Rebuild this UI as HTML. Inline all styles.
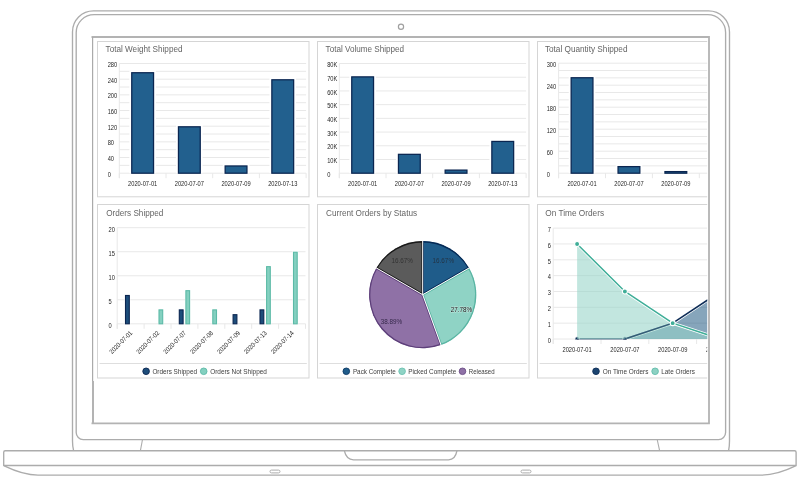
<!DOCTYPE html>
<html><head><meta charset="utf-8"><title>Dashboard</title>
<style>
html,body{margin:0;padding:0;background:#fff;width:800px;height:487px;overflow:hidden}
svg{display:block;will-change:transform;filter:blur(0.3px)}
text{font-family:'Liberation Sans', Arial, sans-serif}
.t{font-size:8.7px;fill:#656565}
.ax{font-size:6.5px;fill:#262626}
.lg{font-size:7.2px;fill:#3c3c3c}
.pl{font-size:7px}
</style></head><body>
<svg width="800" height="487" viewBox="0 0 800 487">
<path d="M73.6 450.6 C72.6 447 72.5 445 72.5 441 L72.5 32 A21 21 0 0 1 93.5 10.9 L708.5 10.9 A21 21 0 0 1 729.5 32 L729.5 441 C729.5 445 729.4 447 728.6 450.6" fill="none" stroke="#acacac" stroke-width="1.35"/>
<path d="M76.2 32.6 A18 18 0 0 1 94.2 14.6 L707.6 14.6 A18 18 0 0 1 725.6 32.6 L725.6 432.6 A7 7 0 0 1 718.6 439.6 L83.2 439.6 A7 7 0 0 1 76.2 432.6 Z" fill="none" stroke="#acacac" stroke-width="1.35"/>
<circle cx="401" cy="26.8" r="2.6" fill="none" stroke="#a0a0a0" stroke-width="1.2"/>
<path d="M142.4 440 L140.4 450.6 M657.3 440 L659.6 450.6" stroke="#acacac" stroke-width="1.1" fill="none"/>
<path d="M3.7 465.5 L3.7 452.2 A1.5 1.5 0 0 1 5.2 450.7 L794.6 450.7 A1.5 1.5 0 0 1 796.1 452.2 L796.1 465.5 Z" fill="none" stroke="#acacac" stroke-width="1.35"/>
<path d="M4.2 465.8 C14 470.5 26 475 38 475.1 L761 475.1 C773 475 786 470.5 795.6 465.8" fill="none" stroke="#acacac" stroke-width="1.35"/>
<path d="M344.3 450.7 C345.5 456 348.5 459.8 353.5 459.8 L448.5 459.8 C453.5 459.8 456 456 457 450.7" fill="none" stroke="#acacac" stroke-width="1.35"/>
<rect x="270" y="470.1" width="10" height="2.8" rx="1.4" fill="none" stroke="#acacac" stroke-width="1"/>
<rect x="521" y="470.1" width="10" height="2.8" rx="1.4" fill="none" stroke="#acacac" stroke-width="1"/>
<defs><clipPath id="scr"><rect x="93.6" y="38" width="613.6" height="384.6"/></clipPath></defs>
<g clip-path="url(#scr)">
<rect x="97.5" y="41.5" width="211.5" height="155.3" fill="#fff" stroke="#d5d5d5" stroke-width="1"/>
<rect x="97.5" y="204.5" width="211.5" height="173.5" fill="#fff" stroke="#d5d5d5" stroke-width="1"/>
<rect x="317.5" y="41.5" width="211.5" height="155.3" fill="#fff" stroke="#d5d5d5" stroke-width="1"/>
<rect x="317.5" y="204.5" width="211.5" height="173.5" fill="#fff" stroke="#d5d5d5" stroke-width="1"/>
<rect x="537.5" y="41.5" width="211.5" height="155.3" fill="#fff" stroke="#d5d5d5" stroke-width="1"/>
<rect x="537.5" y="204.5" width="211.5" height="173.5" fill="#fff" stroke="#d5d5d5" stroke-width="1"/>
<text class="t" x="105.6" y="51.6" textLength="76.9" lengthAdjust="spacingAndGlyphs">Total Weight Shipped</text>
<text class="t" x="325.6" y="51.6" textLength="78.5" lengthAdjust="spacingAndGlyphs">Total Volume Shipped</text>
<text class="t" x="544.9" y="51.6" textLength="82.6" lengthAdjust="spacingAndGlyphs">Total Quantity Shipped</text>
<text class="t" x="106.2" y="216.0" textLength="57.2" lengthAdjust="spacingAndGlyphs">Orders Shipped</text>
<text class="t" x="326.0" y="216.0" textLength="91.1" lengthAdjust="spacingAndGlyphs">Current Orders by Status</text>
<text class="t" x="545.3" y="216.0" textLength="58.8" lengthAdjust="spacingAndGlyphs">On Time Orders</text>
<line x1="119.3" y1="173.20" x2="306.1" y2="173.20" stroke="#e8e8e8" stroke-width="1"/>
<line x1="119.3" y1="165.36" x2="306.1" y2="165.36" stroke="#e8e8e8" stroke-width="1"/>
<line x1="119.3" y1="157.53" x2="306.1" y2="157.53" stroke="#e8e8e8" stroke-width="1"/>
<line x1="119.3" y1="149.69" x2="306.1" y2="149.69" stroke="#e8e8e8" stroke-width="1"/>
<line x1="119.3" y1="141.86" x2="306.1" y2="141.86" stroke="#e8e8e8" stroke-width="1"/>
<line x1="119.3" y1="134.02" x2="306.1" y2="134.02" stroke="#e8e8e8" stroke-width="1"/>
<line x1="119.3" y1="126.19" x2="306.1" y2="126.19" stroke="#e8e8e8" stroke-width="1"/>
<line x1="119.3" y1="118.35" x2="306.1" y2="118.35" stroke="#e8e8e8" stroke-width="1"/>
<line x1="119.3" y1="110.52" x2="306.1" y2="110.52" stroke="#e8e8e8" stroke-width="1"/>
<line x1="119.3" y1="102.68" x2="306.1" y2="102.68" stroke="#e8e8e8" stroke-width="1"/>
<line x1="119.3" y1="94.85" x2="306.1" y2="94.85" stroke="#e8e8e8" stroke-width="1"/>
<line x1="119.3" y1="87.01" x2="306.1" y2="87.01" stroke="#e8e8e8" stroke-width="1"/>
<line x1="119.3" y1="79.18" x2="306.1" y2="79.18" stroke="#e8e8e8" stroke-width="1"/>
<line x1="119.3" y1="71.34" x2="306.1" y2="71.34" stroke="#e8e8e8" stroke-width="1"/>
<line x1="119.3" y1="63.51" x2="306.1" y2="63.51" stroke="#e8e8e8" stroke-width="1"/>
<line x1="119.3" y1="63.51" x2="119.3" y2="178.2" stroke="#e8e8e8" stroke-width="1"/>
<line x1="119.30" y1="173.2" x2="119.30" y2="178.2" stroke="#e8e8e8" stroke-width="1"/>
<line x1="166.00" y1="173.2" x2="166.00" y2="178.2" stroke="#e8e8e8" stroke-width="1"/>
<line x1="212.70" y1="173.2" x2="212.70" y2="178.2" stroke="#e8e8e8" stroke-width="1"/>
<line x1="259.40" y1="173.2" x2="259.40" y2="178.2" stroke="#e8e8e8" stroke-width="1"/>
<line x1="306.10" y1="173.2" x2="306.10" y2="178.2" stroke="#e8e8e8" stroke-width="1"/>
<text class="ax" x="107.70" y="176.80" textLength="3.18" lengthAdjust="spacingAndGlyphs">0</text>
<text class="ax" x="107.70" y="161.13" textLength="6.36" lengthAdjust="spacingAndGlyphs">40</text>
<text class="ax" x="107.70" y="145.46" textLength="6.36" lengthAdjust="spacingAndGlyphs">80</text>
<text class="ax" x="107.70" y="129.79" textLength="9.54" lengthAdjust="spacingAndGlyphs">120</text>
<text class="ax" x="107.70" y="114.12" textLength="9.54" lengthAdjust="spacingAndGlyphs">160</text>
<text class="ax" x="107.70" y="98.45" textLength="9.54" lengthAdjust="spacingAndGlyphs">200</text>
<text class="ax" x="107.70" y="82.78" textLength="9.54" lengthAdjust="spacingAndGlyphs">240</text>
<text class="ax" x="107.70" y="67.11" textLength="9.54" lengthAdjust="spacingAndGlyphs">280</text>
<text class="ax" x="142.65" y="185.80" textLength="29.25" lengthAdjust="spacingAndGlyphs" text-anchor="middle">2020-07-01</text>
<text class="ax" x="189.35" y="185.80" textLength="29.25" lengthAdjust="spacingAndGlyphs" text-anchor="middle">2020-07-07</text>
<text class="ax" x="236.05" y="185.80" textLength="29.25" lengthAdjust="spacingAndGlyphs" text-anchor="middle">2020-07-09</text>
<text class="ax" x="282.75" y="185.80" textLength="29.25" lengthAdjust="spacingAndGlyphs" text-anchor="middle">2020-07-13</text>
<rect x="129.35" y="70.53" width="26.6" height="102.67" fill="#fff"/>
<rect x="131.75" y="72.73" width="21.8" height="100.47" fill="#22608e" stroke="#0a2550" stroke-width="1.25"/>
<rect x="176.05" y="124.59" width="26.6" height="48.61" fill="#fff"/>
<rect x="178.45" y="126.79" width="21.8" height="46.41" fill="#22608e" stroke="#0a2550" stroke-width="1.25"/>
<rect x="222.75" y="163.76" width="26.6" height="9.44" fill="#fff"/>
<rect x="225.15" y="165.96" width="21.8" height="7.24" fill="#22608e" stroke="#0a2550" stroke-width="1.25"/>
<rect x="269.45" y="77.58" width="26.6" height="95.62" fill="#fff"/>
<rect x="271.85" y="79.78" width="21.8" height="93.42" fill="#22608e" stroke="#0a2550" stroke-width="1.25"/>
<line x1="339.3" y1="173.20" x2="526.1" y2="173.20" stroke="#e8e8e8" stroke-width="1"/>
<line x1="339.3" y1="159.49" x2="526.1" y2="159.49" stroke="#e8e8e8" stroke-width="1"/>
<line x1="339.3" y1="145.78" x2="526.1" y2="145.78" stroke="#e8e8e8" stroke-width="1"/>
<line x1="339.3" y1="132.07" x2="526.1" y2="132.07" stroke="#e8e8e8" stroke-width="1"/>
<line x1="339.3" y1="118.36" x2="526.1" y2="118.36" stroke="#e8e8e8" stroke-width="1"/>
<line x1="339.3" y1="104.65" x2="526.1" y2="104.65" stroke="#e8e8e8" stroke-width="1"/>
<line x1="339.3" y1="90.94" x2="526.1" y2="90.94" stroke="#e8e8e8" stroke-width="1"/>
<line x1="339.3" y1="77.23" x2="526.1" y2="77.23" stroke="#e8e8e8" stroke-width="1"/>
<line x1="339.3" y1="63.52" x2="526.1" y2="63.52" stroke="#e8e8e8" stroke-width="1"/>
<line x1="339.3" y1="63.52" x2="339.3" y2="178.2" stroke="#e8e8e8" stroke-width="1"/>
<line x1="339.30" y1="173.2" x2="339.30" y2="178.2" stroke="#e8e8e8" stroke-width="1"/>
<line x1="386.00" y1="173.2" x2="386.00" y2="178.2" stroke="#e8e8e8" stroke-width="1"/>
<line x1="432.70" y1="173.2" x2="432.70" y2="178.2" stroke="#e8e8e8" stroke-width="1"/>
<line x1="479.40" y1="173.2" x2="479.40" y2="178.2" stroke="#e8e8e8" stroke-width="1"/>
<line x1="526.10" y1="173.2" x2="526.10" y2="178.2" stroke="#e8e8e8" stroke-width="1"/>
<text class="ax" x="327.20" y="176.80" textLength="3.18" lengthAdjust="spacingAndGlyphs">0</text>
<text class="ax" x="327.20" y="163.09" textLength="10.18" lengthAdjust="spacingAndGlyphs">10K</text>
<text class="ax" x="327.20" y="149.38" textLength="10.18" lengthAdjust="spacingAndGlyphs">20K</text>
<text class="ax" x="327.20" y="135.67" textLength="10.18" lengthAdjust="spacingAndGlyphs">30K</text>
<text class="ax" x="327.20" y="121.96" textLength="10.18" lengthAdjust="spacingAndGlyphs">40K</text>
<text class="ax" x="327.20" y="108.25" textLength="10.18" lengthAdjust="spacingAndGlyphs">50K</text>
<text class="ax" x="327.20" y="94.54" textLength="10.18" lengthAdjust="spacingAndGlyphs">60K</text>
<text class="ax" x="327.20" y="80.83" textLength="10.18" lengthAdjust="spacingAndGlyphs">70K</text>
<text class="ax" x="327.20" y="67.12" textLength="10.18" lengthAdjust="spacingAndGlyphs">80K</text>
<text class="ax" x="362.65" y="185.80" textLength="29.25" lengthAdjust="spacingAndGlyphs" text-anchor="middle">2020-07-01</text>
<text class="ax" x="409.35" y="185.80" textLength="29.25" lengthAdjust="spacingAndGlyphs" text-anchor="middle">2020-07-07</text>
<text class="ax" x="456.05" y="185.80" textLength="29.25" lengthAdjust="spacingAndGlyphs" text-anchor="middle">2020-07-09</text>
<text class="ax" x="502.75" y="185.80" textLength="29.25" lengthAdjust="spacingAndGlyphs" text-anchor="middle">2020-07-13</text>
<rect x="349.35" y="74.67" width="26.6" height="98.53" fill="#fff"/>
<rect x="351.75" y="76.87" width="21.8" height="96.33" fill="#22608e" stroke="#0a2550" stroke-width="1.25"/>
<rect x="396.05" y="152.13" width="26.6" height="21.07" fill="#fff"/>
<rect x="398.45" y="154.33" width="21.8" height="18.87" fill="#22608e" stroke="#0a2550" stroke-width="1.25"/>
<rect x="442.75" y="167.90" width="26.6" height="5.30" fill="#fff"/>
<rect x="445.15" y="170.10" width="21.8" height="3.10" fill="#22608e" stroke="#0a2550" stroke-width="1.25"/>
<rect x="489.45" y="139.24" width="26.6" height="33.96" fill="#fff"/>
<rect x="491.85" y="141.44" width="21.8" height="31.76" fill="#22608e" stroke="#0a2550" stroke-width="1.25"/>
<line x1="558.6" y1="173.20" x2="746.2" y2="173.20" stroke="#e8e8e8" stroke-width="1"/>
<line x1="558.6" y1="165.87" x2="746.2" y2="165.87" stroke="#e8e8e8" stroke-width="1"/>
<line x1="558.6" y1="158.53" x2="746.2" y2="158.53" stroke="#e8e8e8" stroke-width="1"/>
<line x1="558.6" y1="151.20" x2="746.2" y2="151.20" stroke="#e8e8e8" stroke-width="1"/>
<line x1="558.6" y1="143.87" x2="746.2" y2="143.87" stroke="#e8e8e8" stroke-width="1"/>
<line x1="558.6" y1="136.53" x2="746.2" y2="136.53" stroke="#e8e8e8" stroke-width="1"/>
<line x1="558.6" y1="129.20" x2="746.2" y2="129.20" stroke="#e8e8e8" stroke-width="1"/>
<line x1="558.6" y1="121.87" x2="746.2" y2="121.87" stroke="#e8e8e8" stroke-width="1"/>
<line x1="558.6" y1="114.54" x2="746.2" y2="114.54" stroke="#e8e8e8" stroke-width="1"/>
<line x1="558.6" y1="107.20" x2="746.2" y2="107.20" stroke="#e8e8e8" stroke-width="1"/>
<line x1="558.6" y1="99.87" x2="746.2" y2="99.87" stroke="#e8e8e8" stroke-width="1"/>
<line x1="558.6" y1="92.54" x2="746.2" y2="92.54" stroke="#e8e8e8" stroke-width="1"/>
<line x1="558.6" y1="85.20" x2="746.2" y2="85.20" stroke="#e8e8e8" stroke-width="1"/>
<line x1="558.6" y1="77.87" x2="746.2" y2="77.87" stroke="#e8e8e8" stroke-width="1"/>
<line x1="558.6" y1="70.54" x2="746.2" y2="70.54" stroke="#e8e8e8" stroke-width="1"/>
<line x1="558.6" y1="63.20" x2="746.2" y2="63.20" stroke="#e8e8e8" stroke-width="1"/>
<line x1="558.6" y1="63.20" x2="558.6" y2="178.2" stroke="#e8e8e8" stroke-width="1"/>
<line x1="558.60" y1="173.2" x2="558.60" y2="178.2" stroke="#e8e8e8" stroke-width="1"/>
<line x1="605.50" y1="173.2" x2="605.50" y2="178.2" stroke="#e8e8e8" stroke-width="1"/>
<line x1="652.40" y1="173.2" x2="652.40" y2="178.2" stroke="#e8e8e8" stroke-width="1"/>
<line x1="699.30" y1="173.2" x2="699.30" y2="178.2" stroke="#e8e8e8" stroke-width="1"/>
<line x1="746.20" y1="173.2" x2="746.20" y2="178.2" stroke="#e8e8e8" stroke-width="1"/>
<text class="ax" x="546.70" y="176.80" textLength="3.18" lengthAdjust="spacingAndGlyphs">0</text>
<text class="ax" x="546.70" y="154.80" textLength="6.36" lengthAdjust="spacingAndGlyphs">60</text>
<text class="ax" x="546.70" y="132.80" textLength="9.54" lengthAdjust="spacingAndGlyphs">120</text>
<text class="ax" x="546.70" y="110.80" textLength="9.54" lengthAdjust="spacingAndGlyphs">180</text>
<text class="ax" x="546.70" y="88.80" textLength="9.54" lengthAdjust="spacingAndGlyphs">240</text>
<text class="ax" x="546.70" y="66.80" textLength="9.54" lengthAdjust="spacingAndGlyphs">300</text>
<text class="ax" x="582.05" y="185.80" textLength="29.25" lengthAdjust="spacingAndGlyphs" text-anchor="middle">2020-07-01</text>
<text class="ax" x="628.95" y="185.80" textLength="29.25" lengthAdjust="spacingAndGlyphs" text-anchor="middle">2020-07-07</text>
<text class="ax" x="675.85" y="185.80" textLength="29.25" lengthAdjust="spacingAndGlyphs" text-anchor="middle">2020-07-09</text>
<text class="ax" x="722.75" y="185.80" textLength="29.25" lengthAdjust="spacingAndGlyphs" text-anchor="middle">2020-07-13</text>
<rect x="568.75" y="75.54" width="26.6" height="97.66" fill="#fff"/>
<rect x="571.15" y="77.74" width="21.8" height="95.46" fill="#22608e" stroke="#0a2550" stroke-width="1.25"/>
<rect x="615.65" y="164.41" width="26.6" height="8.79" fill="#fff"/>
<rect x="618.05" y="166.61" width="21.8" height="6.59" fill="#22608e" stroke="#0a2550" stroke-width="1.25"/>
<rect x="662.55" y="169.40" width="26.6" height="3.80" fill="#fff"/>
<rect x="664.95" y="171.60" width="21.8" height="1.60" fill="#22608e" stroke="#0a2550" stroke-width="1.25"/>
<line x1="117.2" y1="323.80" x2="305.50" y2="323.80" stroke="#e8e8e8" stroke-width="1"/>
<text class="ax" x="108.60" y="327.60" textLength="3.18" lengthAdjust="spacingAndGlyphs">0</text>
<line x1="117.2" y1="299.78" x2="305.50" y2="299.78" stroke="#e8e8e8" stroke-width="1"/>
<text class="ax" x="108.60" y="303.58" textLength="3.18" lengthAdjust="spacingAndGlyphs">5</text>
<line x1="117.2" y1="275.75" x2="305.50" y2="275.75" stroke="#e8e8e8" stroke-width="1"/>
<text class="ax" x="108.60" y="279.55" textLength="6.36" lengthAdjust="spacingAndGlyphs">10</text>
<line x1="117.2" y1="251.73" x2="305.50" y2="251.73" stroke="#e8e8e8" stroke-width="1"/>
<text class="ax" x="108.60" y="255.53" textLength="6.36" lengthAdjust="spacingAndGlyphs">15</text>
<line x1="117.2" y1="227.70" x2="305.50" y2="227.70" stroke="#e8e8e8" stroke-width="1"/>
<text class="ax" x="108.60" y="231.50" textLength="6.36" lengthAdjust="spacingAndGlyphs">20</text>
<line x1="117.2" y1="227.70" x2="117.2" y2="328.8" stroke="#e8e8e8" stroke-width="1"/>
<line x1="117.20" y1="323.8" x2="117.20" y2="328.8" stroke="#e8e8e8" stroke-width="1"/>
<line x1="144.10" y1="323.8" x2="144.10" y2="328.8" stroke="#e8e8e8" stroke-width="1"/>
<line x1="171.00" y1="323.8" x2="171.00" y2="328.8" stroke="#e8e8e8" stroke-width="1"/>
<line x1="197.90" y1="323.8" x2="197.90" y2="328.8" stroke="#e8e8e8" stroke-width="1"/>
<line x1="224.80" y1="323.8" x2="224.80" y2="328.8" stroke="#e8e8e8" stroke-width="1"/>
<line x1="251.70" y1="323.8" x2="251.70" y2="328.8" stroke="#e8e8e8" stroke-width="1"/>
<line x1="278.60" y1="323.8" x2="278.60" y2="328.8" stroke="#e8e8e8" stroke-width="1"/>
<line x1="305.50" y1="323.8" x2="305.50" y2="328.8" stroke="#e8e8e8" stroke-width="1"/>
<rect x="124.50" y="293.97" width="5.8" height="29.83" fill="#fff"/>
<rect x="125.50" y="295.47" width="3.8" height="28.33" fill="#1d4d7a" stroke="#0a2550" stroke-width="1.1"/>
<text class="ax" x="132.80" y="333.50" textLength="29.25" lengthAdjust="spacingAndGlyphs" text-anchor="end" transform="rotate(-45 132.80 333.5)">2020-07-01</text>
<rect x="158.00" y="308.38" width="5.7" height="15.41" fill="#fff"/>
<rect x="159.00" y="309.88" width="3.7" height="13.91" fill="#84d0c0" stroke="#5cbaa7" stroke-width="1.1"/>
<text class="ax" x="159.70" y="333.50" textLength="29.25" lengthAdjust="spacingAndGlyphs" text-anchor="end" transform="rotate(-45 159.70 333.5)">2020-07-02</text>
<rect x="178.30" y="308.38" width="5.8" height="15.41" fill="#fff"/>
<rect x="179.30" y="309.88" width="3.8" height="13.91" fill="#1d4d7a" stroke="#0a2550" stroke-width="1.1"/>
<rect x="184.90" y="289.17" width="5.7" height="34.63" fill="#fff"/>
<rect x="185.90" y="290.67" width="3.7" height="33.13" fill="#84d0c0" stroke="#5cbaa7" stroke-width="1.1"/>
<text class="ax" x="186.60" y="333.50" textLength="29.25" lengthAdjust="spacingAndGlyphs" text-anchor="end" transform="rotate(-45 186.60 333.5)">2020-07-07</text>
<rect x="211.80" y="308.38" width="5.7" height="15.41" fill="#fff"/>
<rect x="212.80" y="309.88" width="3.7" height="13.91" fill="#84d0c0" stroke="#5cbaa7" stroke-width="1.1"/>
<text class="ax" x="213.50" y="333.50" textLength="29.25" lengthAdjust="spacingAndGlyphs" text-anchor="end" transform="rotate(-45 213.50 333.5)">2020-07-08</text>
<rect x="232.10" y="313.19" width="5.8" height="10.61" fill="#fff"/>
<rect x="233.10" y="314.69" width="3.8" height="9.11" fill="#1d4d7a" stroke="#0a2550" stroke-width="1.1"/>
<text class="ax" x="240.40" y="333.50" textLength="29.25" lengthAdjust="spacingAndGlyphs" text-anchor="end" transform="rotate(-45 240.40 333.5)">2020-07-09</text>
<rect x="259.00" y="308.38" width="5.8" height="15.41" fill="#fff"/>
<rect x="260.00" y="309.88" width="3.8" height="13.91" fill="#1d4d7a" stroke="#0a2550" stroke-width="1.1"/>
<rect x="265.60" y="265.14" width="5.7" height="58.66" fill="#fff"/>
<rect x="266.60" y="266.64" width="3.7" height="57.16" fill="#84d0c0" stroke="#5cbaa7" stroke-width="1.1"/>
<text class="ax" x="267.30" y="333.50" textLength="29.25" lengthAdjust="spacingAndGlyphs" text-anchor="end" transform="rotate(-45 267.30 333.5)">2020-07-13</text>
<rect x="292.50" y="250.73" width="5.7" height="73.07" fill="#fff"/>
<rect x="293.50" y="252.23" width="3.7" height="71.57" fill="#84d0c0" stroke="#5cbaa7" stroke-width="1.1"/>
<text class="ax" x="294.20" y="333.50" textLength="29.25" lengthAdjust="spacingAndGlyphs" text-anchor="end" transform="rotate(-45 294.20 333.5)">2020-07-14</text>
<line x1="99.5" y1="363.5" x2="306.8" y2="363.5" stroke="#dedede" stroke-width="1"/>
<circle cx="146.1" cy="371.3" r="3.3" fill="#1d4d7a" stroke="#0a2550" stroke-width="0.9"/>
<text class="lg" x="152.4" y="373.8" textLength="44.6" lengthAdjust="spacingAndGlyphs">Orders Shipped</text>
<circle cx="203.7" cy="371.3" r="3.3" fill="#84d0c0" stroke="#5cbaa7" stroke-width="0.9"/>
<text class="lg" x="210.2" y="373.8" textLength="56.7" lengthAdjust="spacingAndGlyphs">Orders Not Shipped</text>
<clipPath id="sl0"><path d="M422.7 294.7 L422.70 241.10 A53.6 53.6 0 0 1 469.12 267.90 Z"/></clipPath>
<path d="M422.7 294.7 L422.70 241.10 A53.6 53.6 0 0 1 469.12 267.90 Z" fill="#1f5c8a" stroke="#062a55" stroke-width="2.6" clip-path="url(#sl0)"/>
<clipPath id="sl1"><path d="M422.7 294.7 L469.12 267.90 A53.6 53.6 0 0 1 441.03 345.07 Z"/></clipPath>
<path d="M422.7 294.7 L469.12 267.90 A53.6 53.6 0 0 1 441.03 345.07 Z" fill="#8fd3c5" stroke="#5ab5a3" stroke-width="2.6" clip-path="url(#sl1)"/>
<clipPath id="sl2"><path d="M422.7 294.7 L441.03 345.07 A53.6 53.6 0 0 1 376.28 267.90 Z"/></clipPath>
<path d="M422.7 294.7 L441.03 345.07 A53.6 53.6 0 0 1 376.28 267.90 Z" fill="#8f71a6" stroke="#5d3f7a" stroke-width="2.6" clip-path="url(#sl2)"/>
<clipPath id="sl3"><path d="M422.7 294.7 L376.28 267.90 A53.6 53.6 0 0 1 422.70 241.10 Z"/></clipPath>
<path d="M422.7 294.7 L376.28 267.90 A53.6 53.6 0 0 1 422.70 241.10 Z" fill="#5b5b5b" stroke="#1a1a1a" stroke-width="2.6" clip-path="url(#sl3)"/>
<line x1="422.7" y1="294.7" x2="422.70" y2="240.10" stroke="#fff" stroke-width="1"/>
<line x1="422.7" y1="294.7" x2="469.98" y2="267.40" stroke="#fff" stroke-width="1"/>
<line x1="422.7" y1="294.7" x2="441.37" y2="346.01" stroke="#fff" stroke-width="1"/>
<line x1="422.7" y1="294.7" x2="375.42" y2="267.40" stroke="#fff" stroke-width="1"/>
<text class="pl" x="443.3" y="262.5" text-anchor="middle" fill="#233445" textLength="21.4" lengthAdjust="spacingAndGlyphs">16.67%</text>
<text class="pl" x="461.5" y="311.6" text-anchor="middle" fill="#111" stroke="#fff" stroke-width="1" stroke-opacity="0.45" paint-order="stroke" textLength="21.4" lengthAdjust="spacingAndGlyphs">27.78%</text>
<text class="pl" x="391.4" y="323.5" text-anchor="middle" fill="#35284a" textLength="21.4" lengthAdjust="spacingAndGlyphs">38.89%</text>
<text class="pl" x="402.2" y="262.5" text-anchor="middle" fill="#333" textLength="21.4" lengthAdjust="spacingAndGlyphs">16.67%</text>
<line x1="319.5" y1="363.5" x2="526.8" y2="363.5" stroke="#dedede" stroke-width="1"/>
<circle cx="346.3" cy="371.3" r="3.3" fill="#1f5c8a" stroke="#0c3964" stroke-width="0.9"/>
<text class="lg" x="352.9" y="373.8" textLength="42.9" lengthAdjust="spacingAndGlyphs">Pack Complete</text>
<circle cx="402.1" cy="371.3" r="3.3" fill="#8fd3c5" stroke="#6cc2b1" stroke-width="0.9"/>
<text class="lg" x="408.2" y="373.8" textLength="48.1" lengthAdjust="spacingAndGlyphs">Picked Complete</text>
<circle cx="462.5" cy="371.3" r="3.3" fill="#8f71a6" stroke="#6b4d87" stroke-width="0.9"/>
<text class="lg" x="468.8" y="373.8" textLength="25.8" lengthAdjust="spacingAndGlyphs">Released</text>
<line x1="553.2" y1="339.00" x2="744.40" y2="339.00" stroke="#e8e8e8" stroke-width="1"/>
<text class="ax" x="547.80" y="342.80" textLength="3.18" lengthAdjust="spacingAndGlyphs">0</text>
<line x1="553.2" y1="323.16" x2="744.40" y2="323.16" stroke="#e8e8e8" stroke-width="1"/>
<text class="ax" x="547.80" y="326.96" textLength="3.18" lengthAdjust="spacingAndGlyphs">1</text>
<line x1="553.2" y1="307.32" x2="744.40" y2="307.32" stroke="#e8e8e8" stroke-width="1"/>
<text class="ax" x="547.80" y="311.12" textLength="3.18" lengthAdjust="spacingAndGlyphs">2</text>
<line x1="553.2" y1="291.48" x2="744.40" y2="291.48" stroke="#e8e8e8" stroke-width="1"/>
<text class="ax" x="547.80" y="295.28" textLength="3.18" lengthAdjust="spacingAndGlyphs">3</text>
<line x1="553.2" y1="275.64" x2="744.40" y2="275.64" stroke="#e8e8e8" stroke-width="1"/>
<text class="ax" x="547.80" y="279.44" textLength="3.18" lengthAdjust="spacingAndGlyphs">4</text>
<line x1="553.2" y1="259.80" x2="744.40" y2="259.80" stroke="#e8e8e8" stroke-width="1"/>
<text class="ax" x="547.80" y="263.60" textLength="3.18" lengthAdjust="spacingAndGlyphs">5</text>
<line x1="553.2" y1="243.96" x2="744.40" y2="243.96" stroke="#e8e8e8" stroke-width="1"/>
<text class="ax" x="547.80" y="247.76" textLength="3.18" lengthAdjust="spacingAndGlyphs">6</text>
<line x1="553.2" y1="228.12" x2="744.40" y2="228.12" stroke="#e8e8e8" stroke-width="1"/>
<text class="ax" x="547.80" y="231.92" textLength="3.18" lengthAdjust="spacingAndGlyphs">7</text>
<line x1="553.2" y1="228.12" x2="553.2" y2="344.0" stroke="#e8e8e8" stroke-width="1"/>
<line x1="553.20" y1="339.0" x2="553.20" y2="344.0" stroke="#e8e8e8" stroke-width="1"/>
<line x1="601.00" y1="339.0" x2="601.00" y2="344.0" stroke="#e8e8e8" stroke-width="1"/>
<line x1="648.80" y1="339.0" x2="648.80" y2="344.0" stroke="#e8e8e8" stroke-width="1"/>
<line x1="696.60" y1="339.0" x2="696.60" y2="344.0" stroke="#e8e8e8" stroke-width="1"/>
<line x1="744.40" y1="339.0" x2="744.40" y2="344.0" stroke="#e8e8e8" stroke-width="1"/>
<text class="ax" x="577.10" y="352.20" textLength="29.25" lengthAdjust="spacingAndGlyphs" text-anchor="middle">2020-07-01</text>
<text class="ax" x="624.90" y="352.20" textLength="29.25" lengthAdjust="spacingAndGlyphs" text-anchor="middle">2020-07-07</text>
<text class="ax" x="672.70" y="352.20" textLength="29.25" lengthAdjust="spacingAndGlyphs" text-anchor="middle">2020-07-09</text>
<text class="ax" x="720.50" y="352.20" textLength="29.25" lengthAdjust="spacingAndGlyphs" text-anchor="middle">2020-07-13</text>
<clipPath id="plot6"><rect x="553.2" y="215" width="200" height="124.60"/></clipPath><g clip-path="url(#plot6)">
<path d="M577.10 339.00 L624.90 339.00 L672.70 323.16 L720.50 291.48 L720.50 339.0 L577.10 339.0 Z" fill="#0d4b77" fill-opacity="0.5"/>
<path d="M577.10 339.00 L624.90 339.00 L672.70 323.16 L720.50 291.48" fill="none" stroke="#fff" stroke-width="3.1" stroke-linejoin="round"/>
<path d="M577.10 339.00 L624.90 339.00 L672.70 323.16 L720.50 291.48" fill="none" stroke="#0e2d57" stroke-width="1.5" stroke-linejoin="round"/>
<circle cx="577.10" cy="339.00" r="2.2" fill="#0e2d57" stroke="#fff" stroke-width="0.8"/>
<circle cx="624.90" cy="339.00" r="2.2" fill="#0e2d57" stroke="#fff" stroke-width="0.8"/>
<circle cx="672.70" cy="323.16" r="2.2" fill="#0e2d57" stroke="#fff" stroke-width="0.8"/>
<circle cx="720.50" cy="291.48" r="2.2" fill="#0e2d57" stroke="#fff" stroke-width="0.8"/>
<path d="M577.10 243.96 L624.90 291.48 L672.70 323.16 L720.50 339.00 L720.50 339.0 L577.10 339.0 Z" fill="#94d3c7" fill-opacity="0.57"/>
<path d="M624.90 339.00 L672.70 323.16" fill="none" stroke="#0e2d57" stroke-opacity="0.5" stroke-width="1.5" stroke-linejoin="round"/>
<path d="M577.10 243.96 L624.90 291.48 L672.70 323.16 L720.50 339.00" fill="none" stroke="#fff" stroke-width="3.1" stroke-linejoin="round"/>
<path d="M577.10 243.96 L624.90 291.48 L672.70 323.16 L720.50 339.00" fill="none" stroke="#3fae98" stroke-width="1.5" stroke-linejoin="round"/>
<circle cx="577.10" cy="243.96" r="2.5" fill="#3fae98" stroke="#fff" stroke-width="1.1"/>
<circle cx="624.90" cy="291.48" r="2.5" fill="#3fae98" stroke="#fff" stroke-width="1.1"/>
<circle cx="672.70" cy="323.16" r="2.5" fill="#3fae98" stroke="#fff" stroke-width="1.1"/>
<circle cx="720.50" cy="339.00" r="2.5" fill="#3fae98" stroke="#fff" stroke-width="1.1"/>
</g>
<line x1="539.5" y1="363.5" x2="746.8" y2="363.5" stroke="#dedede" stroke-width="1"/>
<circle cx="596" cy="371.3" r="3.3" fill="#1b4470" stroke="#0f2f58" stroke-width="0.9"/>
<text class="lg" x="602.7" y="373.8" textLength="45.7" lengthAdjust="spacingAndGlyphs">On Time Orders</text>
<circle cx="655.1" cy="371.3" r="3.3" fill="#8dd1c3" stroke="#62bdab" stroke-width="0.9"/>
<text class="lg" x="661.3" y="373.8" textLength="33.6" lengthAdjust="spacingAndGlyphs">Late Orders</text>
</g>
<path d="M92.4 37 L709 37 L709 423.3 L92.4 423.3" fill="none" stroke="#b3b3b3" stroke-width="1.8" stroke-linecap="square"/>
<path d="M92.6 37 L92.6 381" fill="none" stroke="#aaaaaa" stroke-width="1.2"/>
<path d="M93 381 L93 423.3" fill="none" stroke="#b3b3b3" stroke-width="2"/>
</svg></body></html>
